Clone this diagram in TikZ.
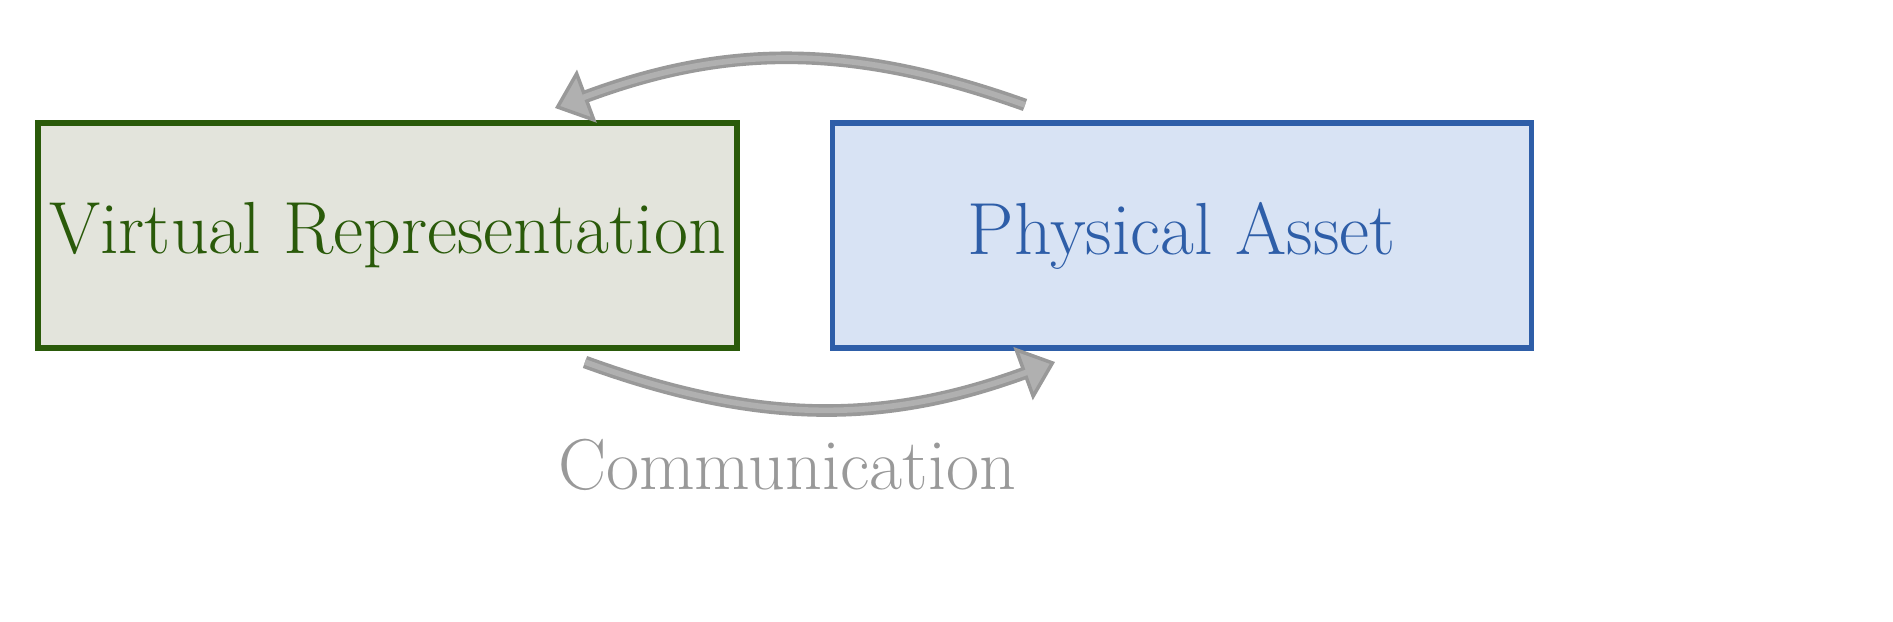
\documentclass[tikz,border=0pt]{standalone}
\usepackage{tikz}
\usetikzlibrary{positioning,arrows.meta}
\definecolor{vgreen}{HTML}{2A5A0A}
\definecolor{vfill}{HTML}{E3E4DC}
\definecolor{pblue}{HTML}{2E5EA8}
\definecolor{pfill}{HTML}{D8E3F4}
\definecolor{agray}{HTML}{999999}
\definecolor{alight}{HTML}{B0B0B0}
\begin{document}
\begin{tikzpicture}
     \tikzset{box/.style={draw, line width=1.5pt, minimum width=6.99cm, minimum height=2.25cm, inner sep=0pt, font=\fontsize{21}{25}\selectfont}}
     \tikzset{link/.style={line width=3.6pt, draw=agray, -{Triangle[length=0.34cm, width=0.56cm, fill=alight, color=agray, line width=1pt]}, postaction={draw=alight, line width=1.6pt, shorten >=0.3cm, -}}}
     \useasboundingbox (0,0) rectangle (18.93,-6.22);
     \node [box, draw=vgreen, fill=vfill, text=vgreen] (vr) at (3.875,-2.355) {Virtual Representation};
     \node [box, draw=pblue, fill=pfill, text=pblue, right=0.9cm of vr] (pa) {Physical Asset};
     
     \coordinate (t1) at (10.25,-1.05);
     \coordinate (t2) at (5.55,-1.08);
     \coordinate (b1) at (5.85,-3.62);
     \coordinate (b2) at (10.55,-3.62);
     
     \path [link] (t1) to [bend right=20] (t2);
     \path [link] (b1) to [bend right=20] (b2);
     \node [text=agray, font=\fontsize{20.5}{24}\selectfont] (com) at (7.87,-4.65) {Communication};
   \end{tikzpicture}
\end{document}
